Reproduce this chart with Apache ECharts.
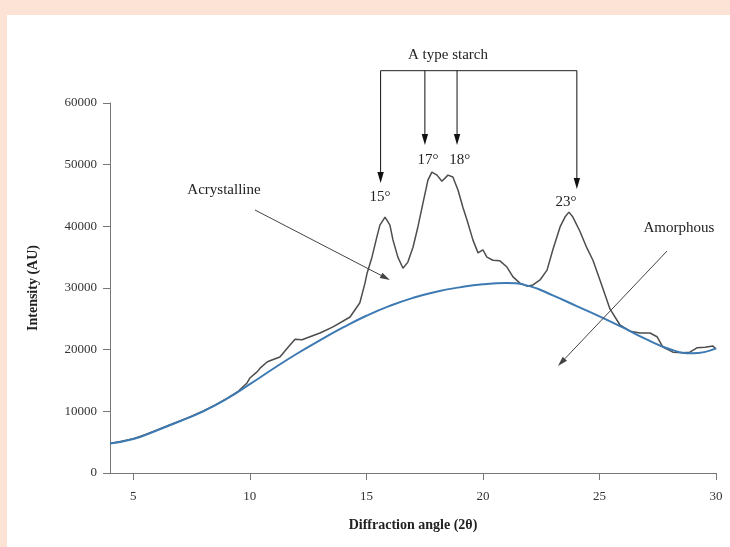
<!DOCTYPE html>
<html>
<head>
<meta charset="utf-8">
<script src="https://cdn.jsdelivr.net/npm/echarts@6/dist/echarts.min.js"></script>
<style>
html,body{margin:0;padding:0;background:#fde3d6;width:730px;height:547px;overflow:hidden;}
#chart{position:absolute;left:7px;top:15px;width:723px;height:532px;background:#ffffff;}
</style>
</head>
<body>
<div id="chart"></div>
<script>
// ---- Data ----
const xTicks = [5, 10, 15, 20, 25, 30];
const yTicks = [0, 10000, 20000, 30000, 40000, 50000, 60000];

// Observed diffraction pattern (grey)
const grayX = [4.0,4.5,5.0,5.5,6.0,6.5,7.0,7.5,8.0,8.5,9.0,9.5,9.88,10.0,10.31,10.44,10.74,10.86,11.29,11.64,11.94,12.24,12.58,13.01,13.57,14.30,14.72,14.94,15.03,15.24,15.45,15.58,15.80,16.01,16.14,16.35,16.57,16.78,17.00,17.21,17.43,17.64,17.81,18.03,18.24,18.50,18.71,18.93,19.14,19.32,19.57,19.79,20.00,20.17,20.43,20.73,21.03,21.29,21.59,21.89,22.15,22.45,22.75,23.00,23.31,23.52,23.69,23.86,24.16,24.46,24.72,25.02,25.24,25.45,25.88,26.31,26.74,27.17,27.47,27.72,28.15,28.58,28.88,29.18,29.53,29.87,30.0];
const grayY = [4800,5150,5550,6200,6950,7700,8450,9200,10050,11000,12050,13250,14600,15400,16400,17000,18000,18200,18800,20400,21700,21600,22100,22700,23700,25300,27600,30800,32400,35000,38300,40200,41500,40200,37800,35000,33200,34200,36600,39900,43800,47500,48800,48300,47300,48300,48000,45900,43100,41000,37800,35700,36200,35000,34500,34400,33400,31800,30800,30300,30500,31300,32900,36200,39900,41500,42300,41500,39200,36500,34500,31300,28900,26600,24000,23000,22700,22700,22100,20400,19600,19500,19600,20300,20400,20600,20100];

// Amorphous fitted background (blue)
const blueX = [4,5,6,7,8,9,10,11,12,13,14,15,16,17,18,19,20,21,22,23,24,25,26,27,28,29,30];
const blueY = [4800,5500,6900,8400,10000,12000,14400,16900,19300,21500,23600,25500,27100,28400,29400,30100,30600,30800,30300,28800,27100,25400,23600,21700,20100,19400,20200];

// Annotations (data coordinates)
const bracketY = 65240;
const peakArrowX = [15.61, 17.51, 18.89, 24.03];
const peakArrowTipY = [47030, 53190, 53190, 46050];
const peakLabels = ['15°', '17°', '18°', '23°'];
const peakLabelX = [15.58, 17.64, 19.01, 23.56];
const peakLabelY = [44760, 50760, 50760, 43950];
const titleText = 'A type starch';
const titlePos = [18.5, 67780];
const acrysText = 'Acrystalline';
const acrysPos = [8.89, 45890];
const acrysArrow = [[10.22, 42650], [16.01, 31300]];
const amorText = 'Amorphous';
const amorPos = [28.41, 39730];
const amorArrow = [[27.9, 36000], [23.22, 17350]];

const FONT = "'Liberation Serif', 'Times New Roman', serif";
const chart = echarts.init(document.getElementById('chart'));

chart.setOption({
  backgroundColor: '#ffffff',
  animation: false,
  grid: { left: 103, top: 88, right: 14, bottom: 74 },
  xAxis: {
    type: 'value', min: 4, max: 30,
    name: 'Diffraction angle (2θ)', nameLocation: 'middle', nameGap: 45,
    nameTextStyle: { fontFamily: FONT, fontWeight: 'bold', fontSize: 14, color: '#222' },
    axisLine: { show: true, lineStyle: { color: '#777', width: 1 } },
    axisTick: { show: true, length: 7, lineStyle: { color: '#777' }, customValues: xTicks },
    axisLabel: { customValues: xTicks, margin: 17, fontFamily: FONT, fontSize: 13, color: '#333' },
    splitLine: { show: false }
  },
  yAxis: {
    type: 'value', min: 0, max: 60000, interval: 10000,
    name: 'Intensity (AU)', nameLocation: 'middle', nameGap: 70,
    nameTextStyle: { fontFamily: FONT, fontWeight: 'bold', fontSize: 14, color: '#222' },
    axisLine: { show: true, lineStyle: { color: '#777', width: 1 } },
    axisTick: { show: true, length: 7, lineStyle: { color: '#777' } },
    axisLabel: { margin: 13, fontFamily: FONT, fontSize: 13, color: '#333', formatter: v => String(v) },
    splitLine: { show: false }
  },
  series: [
    {
      type: 'line', name: 'Amorphous', smooth: true, symbol: 'none',
      data: blueX.map((x, i) => [x, blueY[i]]),
      lineStyle: { color: '#3d7ab3', width: 2 }, z: 3
    },
    {
      type: 'line', name: 'Observed', symbol: 'none',
      data: grayX.map((x, i) => [x, grayY[i]]),
      lineStyle: { color: '#4d4d4d', width: 1.5 }, z: 2
    }
  ]
});

function px(p) { return chart.convertToPixel({ gridIndex: 0 }, p); }
function arrow(a, b, color, len, w) {
  const dx = b[0] - a[0], dy = b[1] - a[1];
  const d = Math.sqrt(dx * dx + dy * dy);
  const ux = dx / d, uy = dy / d;
  const bx = b[0] - ux * len, by = b[1] - uy * len;
  return [
    { type: 'line', shape: { x1: a[0], y1: a[1], x2: bx, y2: by }, style: { stroke: color, lineWidth: 1 }, z: 10 },
    { type: 'polygon', shape: { points: [[b[0], b[1]], [bx - uy * w, by + ux * w], [bx + uy * w, by - ux * w]] }, style: { fill: color }, z: 10 }
  ];
}
const g = [];
const bl = px([peakArrowX[0], bracketY]);
const br = px([peakArrowX[3], bracketY]);
g.push({ type: 'line', shape: { x1: bl[0], y1: bl[1], x2: br[0], y2: br[1] }, style: { stroke: '#222', lineWidth: 1 }, z: 10 });
peakArrowX.forEach((x, i) => {
  const top = px([x, bracketY]);
  const tip = px([x, peakArrowTipY[i]]);
  arrow(top, tip, '#111', 11, 3.2).forEach(e => g.push(e));
});
const txt = (s, p, size) => ({ type: 'text', x: p[0], y: p[1], z: 11,
  style: { text: s, font: size + 'px ' + FONT, fill: '#222', align: 'center', verticalAlign: 'middle' } });
peakLabels.forEach((s, i) => g.push(txt(s, px([peakLabelX[i], peakLabelY[i]]), 15)));
g.push(txt(titleText, px(titlePos), 15));
g.push(txt(acrysText, px(acrysPos), 15));
g.push(txt(amorText, px(amorPos), 15));
arrow(px(acrysArrow[0]), px(acrysArrow[1]), '#444', 10, 3).forEach(e => g.push(e));
arrow(px(amorArrow[0]), px(amorArrow[1]), '#444', 10, 3).forEach(e => g.push(e));
chart.setOption({ graphic: g });
</script>
</body>
</html>
